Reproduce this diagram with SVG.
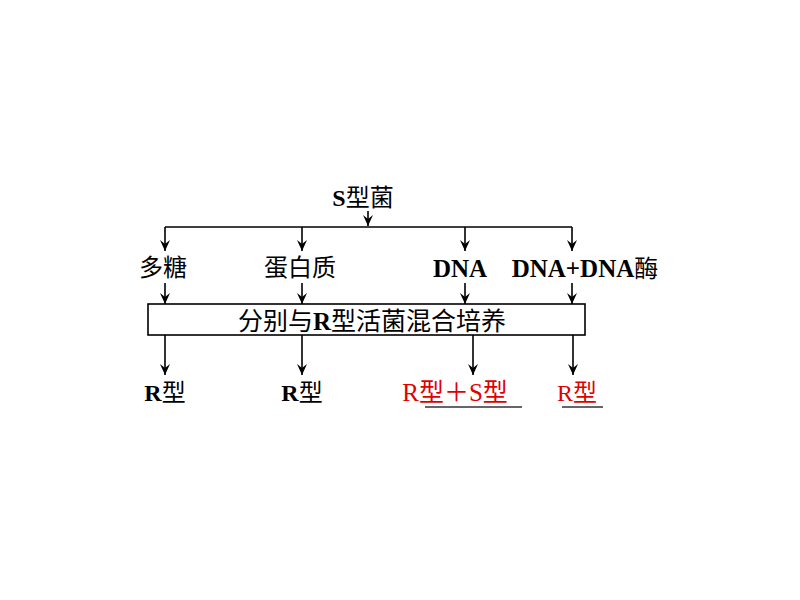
<svg xmlns="http://www.w3.org/2000/svg" width="800" height="600" viewBox="0 0 800 600">
<defs>
<marker id="ah" markerWidth="12" markerHeight="10" refX="11" refY="5" orient="auto" markerUnits="userSpaceOnUse" viewBox="0 0 12 10">
<path d="M0,0 L11,5 L0,10 L4,5 Z" fill="#000"/>
</marker>
</defs>
<style>
text{font-family:"Liberation Serif","Noto Sans CJK SC",serif;font-size:24px;fill:#000;text-anchor:middle}
.b{font-weight:bold}
.red{fill:#e00000}
.ln{stroke:#000;stroke-width:1.6;fill:none}
.arr{stroke:#000;stroke-width:1.6;fill:none;marker-end:url(#ah)}
.ul{stroke:#333;stroke-width:1.6}
</style>
<rect width="800" height="600" fill="#fff"/>
<g id="connectors">
<line class="arr" x1="368" y1="211" x2="368" y2="226"/>
<line class="ln" x1="165" y1="227" x2="572" y2="227"/>
<line class="arr" x1="165" y1="227" x2="165" y2="251"/>
<line class="arr" x1="302" y1="227" x2="302" y2="251"/>
<line class="arr" x1="465" y1="227" x2="465" y2="251"/>
<line class="arr" x1="572" y1="227" x2="572" y2="251"/>
<line class="arr" x1="165" y1="283" x2="165" y2="304"/>
<line class="arr" x1="302" y1="283" x2="302" y2="304"/>
<line class="arr" x1="465" y1="283" x2="465" y2="304"/>
<line class="arr" x1="572" y1="283" x2="572" y2="304"/>
<line class="arr" x1="165" y1="335" x2="165" y2="375"/>
<line class="arr" x1="302" y1="335" x2="302" y2="375"/>
<line class="arr" x1="473" y1="335" x2="473" y2="375"/>
<line class="arr" x1="573" y1="335" x2="573" y2="375"/>
</g>
<g id="source"><text x="363" y="206"><tspan class="b">S</tspan>型菌</text></g>
<g id="polysaccharide"><text x="163" y="276">多糖</text></g>
<g id="protein"><text x="300" y="276">蛋白质</text></g>
<g id="dna"><text x="460" y="277" class="b" style="font-size:25px">DNA</text></g>
<g id="dna-enzyme"><text x="585" y="277"><tspan class="b" style="font-size:25px">DNA+DNA</tspan>酶</text></g>
<g id="culture">
<rect x="148" y="304" width="437" height="31" fill="#fff" stroke="#000" stroke-width="1.6"/>
<text x="372" y="330" style="font-size:25px">分别与<tspan class="b">R</tspan>型活菌混合培养</text>
</g>
<g id="result1"><text x="165" y="401"><tspan class="b">R</tspan>型</text></g>
<g id="result2"><text x="302" y="401"><tspan class="b">R</tspan>型</text></g>
<g id="result3"><text x="455" y="401" class="red" style="font-size:25px">R型＋S型</text>
<line class="ul" x1="425" y1="407" x2="522" y2="407"/></g>
<g id="result4"><text x="577" y="401" class="red">R型</text>
<line class="ul" x1="562" y1="407" x2="603" y2="407"/></g>
</svg>
